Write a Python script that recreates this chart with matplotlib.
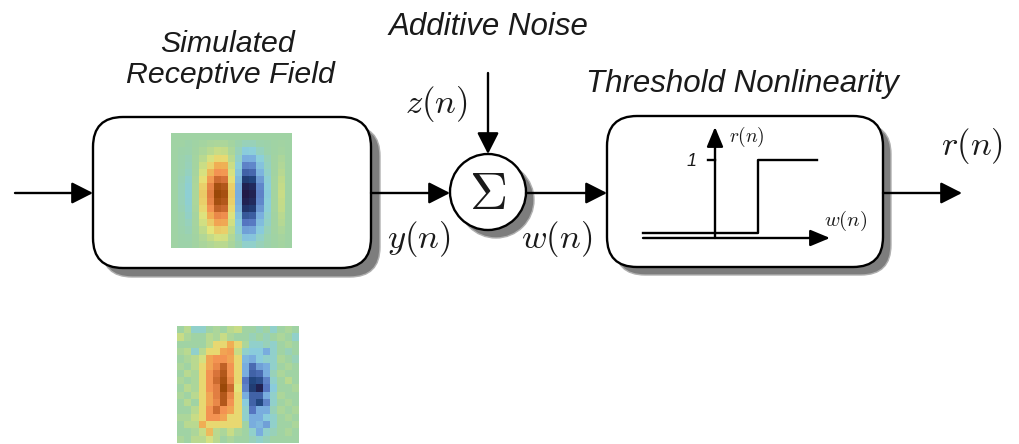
import numpy as np
import matplotlib
matplotlib.use("Agg")
import matplotlib.pyplot as plt
from matplotlib.patches import FancyBboxPatch, Circle
from matplotlib.colors import LinearSegmentedColormap

plt.rcParams['mathtext.fontset'] = 'cm'

# ---------------- data ----------------
TITLES = ["Simulated", "Receptive Field", "Additive Noise", "Threshold Nonlinearity"]
SIGNALS = [r"$z(n)$", r"$y(n)$", r"$w(n)$", r"$r(n)$"]
STEP_TICK_LABEL = "1"

# simulated receptive field (16 rows x 17 cols), values in [-1, 1]
RF_CLEAN = np.array([
    [0, 0, 0, 0, 0, 0, 0, 0, 0, 0, 0, 0, 0, 0, 0, 0, 0],
    [0, 0, -0.01, 0, 0.02, 0.04, 0.05, 0.05, 0.02, -0.02, -0.05, -0.05, -0.02, -0.01, 0, 0.01, 0],
    [0, -0.01, -0.02, 0.01, 0.05, 0.10, 0.15, 0.14, 0.05, -0.05, -0.15, -0.14, -0.07, -0.02, 0, 0.02, 0],
    [0, -0.02, -0.04, 0.02, 0.10, 0.21, 0.30, 0.29, 0.10, -0.09, -0.30, -0.29, -0.14, -0.05, 0.01, 0.05, 0],
    [0, -0.02, -0.05, 0.02, 0.16, 0.32, 0.45, 0.43, 0.16, -0.14, -0.45, -0.43, -0.20, -0.07, 0.01, 0.07, 0],
    [0, -0.03, -0.07, 0.03, 0.21, 0.42, 0.60, 0.57, 0.21, -0.18, -0.60, -0.57, -0.27, -0.09, 0.01, 0.09, 0],
    [0, -0.04, -0.10, 0.04, 0.28, 0.56, 0.80, 0.76, 0.28, -0.24, -0.80, -0.76, -0.36, -0.12, 0.02, 0.12, 0],
    [0, -0.05, -0.11, 0.05, 0.33, 0.67, 0.95, 0.90, 0.33, -0.29, -0.95, -0.90, -0.43, -0.14, 0.02, 0.14, 0],
    [0, -0.05, -0.12, 0.05, 0.35, 0.70, 1.00, 0.95, 0.35, -0.30, -1.00, -0.95, -0.45, -0.15, 0.02, 0.15, 0],
    [0, -0.05, -0.11, 0.05, 0.33, 0.67, 0.95, 0.90, 0.33, -0.29, -0.95, -0.90, -0.43, -0.14, 0.02, 0.14, 0],
    [0, -0.04, -0.10, 0.04, 0.30, 0.60, 0.85, 0.81, 0.30, -0.26, -0.85, -0.81, -0.38, -0.13, 0.02, 0.13, 0],
    [0, -0.03, -0.08, 0.03, 0.23, 0.46, 0.65, 0.62, 0.23, -0.20, -0.65, -0.62, -0.29, -0.10, 0.01, 0.10, 0],
    [0, -0.03, -0.06, 0.03, 0.18, 0.35, 0.50, 0.48, 0.18, -0.15, -0.50, -0.48, -0.23, -0.08, 0.01, 0.08, 0],
    [0, -0.02, -0.04, 0.02, 0.12, 0.25, 0.35, 0.33, 0.12, -0.11, -0.35, -0.33, -0.16, -0.05, 0.01, 0.05, 0],
    [0, -0.01, -0.02, 0.01, 0.07, 0.14, 0.20, 0.19, 0.07, -0.06, -0.20, -0.19, -0.09, -0.03, 0, 0.03, 0],
    [0, -0.01, -0.01, 0.01, 0.04, 0.07, 0.10, 0.10, 0.04, -0.03, -0.10, -0.10, -0.05, -0.02, 0, 0.02, 0],
])

# estimated (noisy) receptive field
RF_NOISY = np.array([
    [0, 0.10, -0.10, -0.10, 0, 0.05, 0, 0.10, 0.15, 0, 0, -0.05, 0, -0.10, 0, 0.05, 0],
    [0.15, 0.05, 0, 0, 0.10, 0.05, 0.15, 0.05, 0, 0, -0.05, 0, -0.05, 0, 0.05, 0, -0.10],
    [0, 0, 0, 0, 0.10, 0.30, 0.30, 0.45, 0.30, 0.05, -0.10, -0.10, -0.05, -0.10, 0, 0.05, 0],
    [0.05, 0.10, -0.10, 0.10, 0.30, 0.30, 0.50, 0.55, 0.15, -0.10, -0.15, -0.15, -0.30, -0.10, 0, -0.05, 0],
    [0, 0.05, 0.10, 0.20, 0.50, 0.60, 0.60, 0.50, 0.30, -0.25, -0.30, -0.15, -0.10, -0.10, 0.05, 0, -0.05],
    [0.05, 0, 0.10, 0.30, 0.50, 0.65, 0.85, 0.60, 0.30, -0.30, -0.55, -0.35, -0.30, -0.10, 0, 0.05, 0],
    [0, 0.10, 0.05, 0.30, 0.60, 0.75, 0.90, 0.60, 0.30, -0.30, -0.60, -0.55, -0.30, -0.05, 0.05, 0, 0],
    [0.05, 0, 0.05, 0.30, 0.60, 0.80, 0.95, 0.65, 0.30, -0.50, -0.75, -0.70, -0.45, -0.10, 0, 0.10, 0],
    [0, 0.10, 0.05, 0.30, 0.60, 0.70, 1.00, 0.80, 0.25, -0.45, -0.80, -0.95, -0.50, -0.15, 0, 0, 0.05],
    [0.05, 0, 0.10, 0.30, 0.50, 0.70, 0.90, 0.65, 0.30, -0.30, -0.60, -0.60, -0.30, -0.10, 0.05, 0, 0],
    [0, 0.10, 0, 0.30, 0.50, 0.65, 0.90, 0.60, 0.30, -0.15, -0.60, -0.75, -0.45, -0.10, 0, 0.05, 0],
    [0, 0, 0.10, 0.30, 0.60, 0.80, 0.60, 0.50, 0.30, -0.10, -0.50, -0.30, -0.30, -0.05, 0.05, 0, 0.05],
    [0.05, 0.05, 0.15, 0.30, 0.60, 0.60, 0.50, 0.30, 0.30, -0.10, -0.30, -0.30, -0.15, -0.10, 0, 0.05, 0],
    [0, 0.10, 0.10, 0.45, 0.30, 0.30, 0.30, 0.30, 0.30, 0, -0.30, -0.25, -0.35, -0.10, 0, 0, 0.05],
    [0, 0, 0.05, 0.15, 0.40, 0.10, 0.05, 0.15, 0.05, 0, -0.10, -0.30, -0.10, -0.05, 0, 0.05, 0],
    [0.05, 0, 0.10, 0.10, 0.20, 0.10, 0, 0.05, 0, 0, -0.05, -0.10, -0.05, 0, 0, 0, 0],
])

CMAP = LinearSegmentedColormap.from_list("rf", [
    (0.00, "#221a48"), (0.12, "#21457f"), (0.25, "#5575c0"), (0.35, "#7aaedf"),
    (0.43, "#8ccfdc"), (0.50, "#9fd3a5"), (0.57, "#c5dc88"), (0.63, "#e6e57a"),
    (0.72, "#f0b055"), (0.80, "#f39352"), (0.88, "#d8733a"), (1.00, "#9a4808"),
])

# ---------------- figure ----------------
W, H = 1019, 444
fig = plt.figure(figsize=(W / 100, H / 100), dpi=100)
ax = fig.add_axes([0, 0, 1, 1])
ax.axis("off")

LW = 1.7
SHADOW = "#7d7d7d"
TXT = "#1a1a1a"
sans = dict(family="Liberation Sans", style="italic", color=TXT)


def box(x0, y0, x1, y1, off=9):
    sh = FancyBboxPatch((x0 + off, y0 + off), x1 - x0, y1 - y0,
                        boxstyle="round,pad=0,rounding_size=30",
                        fc=SHADOW, ec="#b0b0b0", lw=1.0, zorder=1)
    ax.add_patch(sh)
    b = FancyBboxPatch((x0, y0), x1 - x0, y1 - y0,
                       boxstyle="round,pad=0,rounding_size=30",
                       fc="white", ec="black", lw=LW, zorder=2)
    ax.add_patch(b)


def arrow(p0, p1, hl=0.65, hw=0.33, lw=LW, z=5):
    ax.annotate("", xy=p1, xytext=p0,
                arrowprops=dict(arrowstyle=f"-|>,head_length={hl},head_width={hw}",
                                lw=lw, color="black", shrinkA=0, shrinkB=0,
                                mutation_scale=20), zorder=z)


YA = 193
# blocks
box(93, 117, 371, 268)
box(607, 116, 883, 267, off=8)

# receptive field images
ax.imshow(RF_CLEAN, cmap=CMAP, vmin=-1, vmax=1, interpolation="nearest",
          extent=(171, 292, 248, 133), aspect="auto", zorder=3)
ax.imshow(RF_NOISY, cmap=CMAP, vmin=-1, vmax=1, interpolation="nearest",
          extent=(177, 299, 443, 327), aspect="auto", zorder=3)

# summing junction
cx, cy, r = 488, 192, 38
ax.add_patch(Circle((cx + 8, cy + 8), r, fc=SHADOW, ec="#b0b0b0", lw=1.0, zorder=1))
ax.add_patch(Circle((cx, cy), r, fc="white", ec="black", lw=LW, zorder=2))
ax.text(cx, cy + 2, r"$\Sigma$", fontsize=38, ha="center", va="center", color=TXT, zorder=6)

# arrows
arrow((15, YA), (93, YA))
arrow((371, YA), (cx - r, YA))
arrow((cx, 73), (cx, cy - r))
arrow((cx + r, YA), (607, YA))
arrow((883, YA), (962, YA))

# threshold nonlinearity sketch
ax.plot([643, 758, 758, 817], [233, 233, 160, 160], color="black", lw=LW, zorder=4)
arrow((643, 238), (830, 238), hl=0.6, hw=0.25)
arrow((715, 238), (715, 127), hl=0.6, hw=0.25)
ax.plot([708, 715], [160, 160], color="black", lw=LW, zorder=4)
ax.text(697, 161, STEP_TICK_LABEL, fontsize=13, ha="right", va="center", **sans)
ax.text(747, 137, SIGNALS[3], fontsize=14, ha="center", va="center", color=TXT)
ax.text(846, 221, SIGNALS[2], fontsize=15, ha="center", va="center", color=TXT)

# titles
ax.text(228, 52, TITLES[0], fontsize=21.8, ha="center", va="baseline", **sans)
ax.text(230, 83, TITLES[1], fontsize=21.8, ha="center", va="baseline", **sans)
ax.text(488, 35, TITLES[2], fontsize=22.5, ha="center", va="baseline", **sans)
ax.text(742, 92, TITLES[3], fontsize=22.5, ha="center", va="baseline", **sans)

# signal labels
ax.text(436, 104, SIGNALS[0], fontsize=25, ha="center", va="center", color=TXT)
ax.text(419, 239, SIGNALS[1], fontsize=25, ha="center", va="center", color=TXT)
ax.text(557, 239, SIGNALS[2], fontsize=25, ha="center", va="center", color=TXT)
ax.text(972, 146, SIGNALS[3], fontsize=25, ha="center", va="center", color=TXT)

ax.set_xlim(0, W)
ax.set_ylim(H, 0)
fig.savefig("out.png", dpi=100)
